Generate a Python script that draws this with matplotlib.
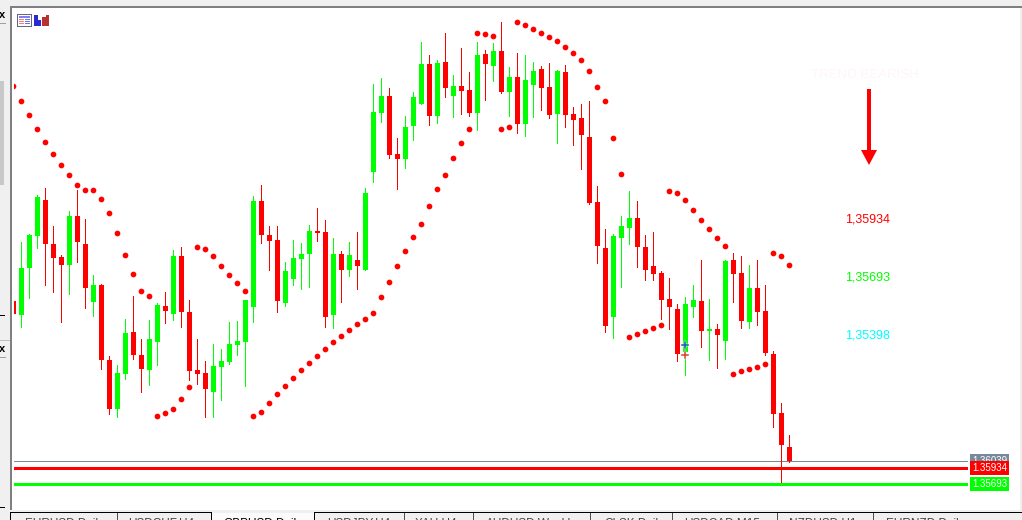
import numpy as np
import matplotlib
matplotlib.use('Agg')
import matplotlib.pyplot as plt
from matplotlib.patches import Rectangle, Polygon

# daily bars, prices in points (1e-5)
opens = [138435, 138225, 138930, 139410, 139950, 139290, 139095, 138975, 139710, 139290,
         138420, 138675, 137550, 136815, 137340, 137970, 137625, 137400, 137820, 138360,
         138240, 139110, 138270, 137400, 137355, 137070, 137445, 137520, 137775, 137820,
         138345, 139935, 139425, 139350, 138405, 138765, 139065, 139140, 139485, 139470,
         138225, 139140, 138900, 139050, 138900, 140370, 141255, 141510, 140640, 140565,
         141060, 141390, 141990, 141210, 142020, 141510, 141660, 141600, 141255, 142140,
         141960, 142185, 141570, 141795, 141090, 141675, 141915, 141645, 141240, 141870,
         141240, 141180, 140895, 139920, 139230, 138195, 139380, 139530, 139680, 139245,
         138960, 138855, 138465, 138315, 137670, 138345, 138435, 137985, 138015, 137835,
         139050, 138855, 138120, 138630, 138285, 137640, 136755, 136245]
highs = [138435, 139320, 139440, 140025, 140130, 139560, 139125, 139785, 140100, 139665,
         138825, 138690, 137610, 137475, 138165, 138510, 137865, 138150, 138405, 138570,
         139200, 139245, 138450, 137865, 137535, 137790, 137715, 138120, 138135, 138450,
         140010, 140175, 139560, 139560, 139020, 139350, 139305, 139575, 139830, 139650,
         139380, 139185, 139320, 139470, 140130, 141690, 141780, 141630, 140880, 141210,
         141570, 142320, 142125, 142050, 142455, 141825, 142230, 141870, 142320, 142200,
         142305, 142620, 141945, 142155, 142125, 142020, 141960, 142005, 141900, 141975,
         141345, 141390, 141435, 140160, 139515, 139440, 139710, 140085, 139935, 139425,
         139470, 138885, 138780, 138390, 138495, 138675, 139050, 138465, 138090, 139050,
         139155, 139110, 138975, 139050, 138675, 137685, 136905, 136425]
lows = [138240, 138045, 138480, 139230, 138675, 138570, 138120, 138540, 139020, 138330,
        138210, 137415, 136740, 136695, 137265, 137565, 137070, 137175, 137475, 138105,
        138150, 138045, 137250, 137190, 136695, 136695, 136950, 137490, 137625, 137160,
        138120, 139305, 138900, 138270, 138360, 138675, 138615, 138645, 139335, 138045,
        138030, 138420, 138810, 138615, 138900, 140220, 141120, 140580, 140115, 140430,
        140850, 141390, 141075, 141105, 141495, 141195, 141240, 141210, 141000, 141450,
        141735, 141555, 141210, 140955, 140910, 141195, 141300, 141180, 140805, 141045,
        140775, 140415, 139890, 139005, 137970, 137880, 138645, 139290, 138945, 138750,
        138750, 138165, 138015, 137535, 137325, 138195, 137745, 137550, 137430, 137565,
        138420, 138030, 138030, 138075, 137625, 136545, 135705, 136020]
closes = [138240, 138930, 139425, 139995, 139290, 139080, 138975, 139710, 139320, 138630,
          138675, 137550, 136815, 137355, 137955, 137625, 137415, 137865, 138375, 138285,
          139110, 138270, 137385, 137340, 137115, 137460, 137535, 137790, 137835, 138450,
          139935, 139425, 139335, 138435, 138885, 139080, 139140, 139485, 139455, 138195,
          139140, 138900, 139125, 138960, 140055, 141270, 141510, 140625, 140565, 141045,
          141495, 141990, 141210, 142005, 141630, 141660, 141585, 141255, 142125, 141990,
          142185, 141570, 141795, 141090, 141750, 141885, 141630, 141225, 141885, 141225,
          141150, 140925, 139905, 139260, 138060, 139410, 139560, 139680, 139245, 138900,
          138840, 138450, 138345, 137640, 138390, 138450, 137985, 138015, 137925, 139035,
          138840, 138135, 138630, 138270, 137655, 136740, 136275, 136039]
# parabolic sar dots
sar = [141660, 141435, 141225, 141015, 140820, 140640, 140475, 140325, 140175, 140100,
       140100, 139965, 139755, 139455, 139125, 138840, 138585, 138510, 136710, 136755,
       136815, 136965, 137145, 139245, 139215, 139110, 138960, 138825, 138705, 138585,
       136710, 136770, 136905, 137040, 137160, 137280, 137400, 137505, 137610, 137715,
       137820, 137910, 138000, 138090, 138165, 138255, 138495, 138720, 138960, 139185,
       139395, 139590, 139860, 140115, 140325, 140580, 140805, 141015, 142455, 142440,
       142410, 141015, 141045, 142620, 142575, 142515, 142455, 142395, 142335, 142245,
       142155, 142050, 141885, 141645, 141435, 140880, 140340, 137895, 137940, 137985,
       138030, 138075, 140085, 140055, 139950, 139800, 139650, 139515, 139380, 139260,
       137340, 137385, 137415, 137445, 137490, 139155, 139110, 138975]

line_prices = [1.36039, 1.35934, 1.35693]
line_labels = ['1.36039', '1.35934', '1.35693']
line_colors = ['#778899', '#ff0000', '#00ff00']
line_widths = [1, 3, 3]

level_texts = ['1,35934', '1,35693', '1,35398']
level_colors = ['#ff0000', '#00ff00', '#00ffff']
tabs = ['EURUSD,Daily', 'USDCHF,H4', 'GBPUSD,Daily', 'USDJPY,H4', 'XAU,H4', 'AUDUSD,Weekly',
        'CLSK,Daily', 'USDCAD,M15', 'NZDUSD,H1', 'EURNZD,Daily']

W, H = 1022, 520
RED = '#ff0000'
GREEN = '#00ff00'
GREY = '#f0f0f0'


def box(x0, y0, x1, y1, color, z=1):
    # rectangle in screen pixels, y from the top
    r = Rectangle((x0 / W, 1 - y1 / H), (x1 - x0) / W, (y1 - y0) / H, transform=fig.transFigure,
                  facecolor=color, edgecolor='none', zorder=z, antialiased=False)
    fig.add_artist(r)


fig = plt.figure(figsize=(W / 100, H / 100), dpi=100, facecolor=GREY)
plt.rcParams['font.family'] = ['Liberation Sans', 'DejaVu Sans']

# window frame
box(11, 8, 1020, 510, 'white', 0)
box(10, 6, 1022, 8, '#808080', 0)
box(10, 6, 12, 510, '#808080', 0)
box(0, 81, 4, 185, '#c8c8c8', 0)
box(0, 23, 6, 24, '#a0a0a0', 0)
box(0, 340, 10, 341, '#c0c0c0', 0)
box(0, 357, 6, 358, '#a0a0a0', 0)
box(0, 315, 5, 316, 'black', 0)
box(0, 507, 5, 508, 'black', 0)
fig.text(-1 / W, 1 - 15 / H, 'x', fontsize=8, fontweight='bold', va='center')
fig.text(-1 / W, 1 - 349 / H, 'x', fontsize=8, fontweight='bold', va='center')

# tabs along the bottom
box(10, 512, 212, 513, 'black', 0)
box(314, 512, 1022, 513, 'black', 0)
box(10, 512, 11, 520, 'black', 0)
box(211, 512, 212, 520, 'black', 0)
box(314, 512, 315, 520, 'black', 0)
box(212, 513, 314, 520, '#fbfbfb', 0)
for sx in [117, 404, 473, 590, 672, 777, 873]:
    box(sx, 513, sx + 1, 520, '#505050', 0)
tab_x = [25, 128, 223, 327, 415, 486, 604, 684, 789, 886]
for i in range(len(tabs)):
    col = 'black' if i == 2 else '#444444'
    fig.text(tab_x[i] / W, 1 - 527 / H, tabs[i], fontsize=8.5, color=col, va='baseline')

# chart area, one bar every 8 px
ax = fig.add_axes([14 / W, 1 - 510 / H, (1020 - 14) / W, (510 - 8) / H])
ax.patch.set_visible(False)
ax.set_axis_off()
ax.set_xlim((14 - 13.33) / 8, (1020 - 13.33) / 8)
ax.set_ylim(1.3530, 1.4283)

o = np.array(opens) / 1e5
h = np.array(highs) / 1e5
l = np.array(lows) / 1e5
c = np.array(closes) / 1e5
s = np.array(sar) / 1e5
xs = np.arange(len(o))
colors = [RED if c[i] < o[i] else GREEN for i in xs]

ax.vlines(xs, l, h, colors=colors, linewidth=0.72, antialiased=False, zorder=3)
ax.bar(xs, np.abs(c - o), bottom=np.minimum(o, c), width=5 / 8, color=colors, linewidth=0,
       antialiased=False, zorder=4)
ax.scatter(xs, s, s=17, color=RED, linewidth=0, zorder=5)

# order arrows on bar 84
ax.scatter([84], [1.37775], s=36, marker='P', color='#1060a8', edgecolor='white', linewidth=0.3, zorder=6)
ax.scatter([84], [1.37625], s=36, marker='P', color='#d8482a', edgecolor='white', linewidth=0.3, zorder=6)

# horizontal levels, with the price tags at the end
line_end = (967 - 13.33) / 8
for i in range(3):
    ax.hlines(line_prices[i], ax.get_xlim()[0], line_end, color=line_colors[i],
              linewidth=line_widths[i] * 0.72, antialiased=False, zorder=2 if i == 0 else 6)
for i in range(3):
    ax.text((989.5 - 13.33) / 8, line_prices[i] - 0.00005, line_labels[i], color='white', fontsize=7,
            ha='center', va='center', zorder=7 + i,
            bbox=dict(facecolor=line_colors[i], edgecolor='none',
                      boxstyle='square,pad=0.2'))

# indicator panel on the right
fig.text(865 / W, 1 - 75 / H, 'TREND BEARISH', color='#fff6f6', fontsize=9.5, ha='center', va='center')
box(867, 89, 871, 151, RED, 3)
fig.add_artist(Polygon([(861 / W, 1 - 150 / H), (877 / W, 1 - 150 / H), (869 / W, 1 - 165 / H)],
                       transform=fig.transFigure, facecolor=RED, edgecolor='none'))
for i in range(3):
    fig.text(868 / W, 1 - (219 + 58 * i) / H, level_texts[i], color=level_colors[i], fontsize=9,
             ha='center', va='center')

# toolbar icons in the corner
box(17, 14, 32, 27, '#666680', 6)
box(18, 15, 31, 26, 'white', 6)
box(19, 16, 30, 18, '#8080f0', 6)
for yy in [19, 21, 23]:
    box(19, yy, 24, yy + 1, '#f08080', 6)
    box(25, yy, 30, yy + 1, '#7070e0', 6)
box(34, 15, 41, 26, '#2a2ad0', 6)
box(38, 15, 41, 20, 'white', 6)
box(42, 17, 49, 26, '#b83030', 6)
box(46, 15, 49, 17, '#b83030', 6)

plt.savefig('out.png', dpi=100, facecolor=fig.get_facecolor())
